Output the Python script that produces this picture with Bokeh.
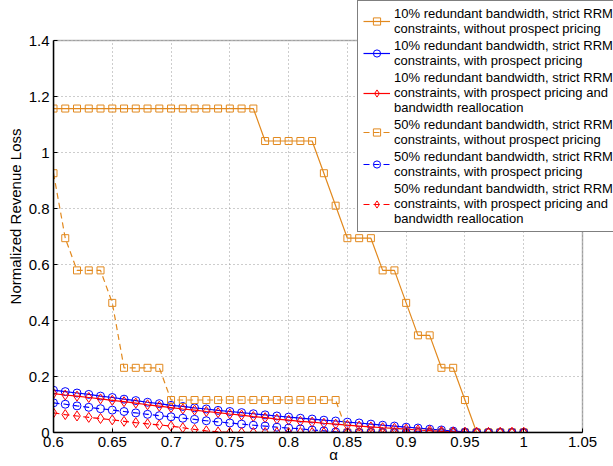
from bokeh.plotting import figure
from bokeh.models import Range1d, FixedTicker, Legend, LegendItem, BoxAnnotation
from bokeh.embed import file_html
from bokeh.resources import INLINE

# ---------------- data ----------------
alpha = [0.60, 0.61, 0.62, 0.63, 0.64, 0.65, 0.66, 0.67, 0.68, 0.69,
         0.70, 0.71, 0.72, 0.73, 0.74, 0.75, 0.76, 0.77, 0.78, 0.79,
         0.80, 0.81, 0.82, 0.83, 0.84, 0.85, 0.86, 0.87, 0.88, 0.89,
         0.90, 0.91, 0.92, 0.93, 0.94, 0.95, 0.96, 0.97, 0.98, 0.99, 1.00]

loss_10_no_prospect = [1.157, 1.157, 1.157, 1.157, 1.157, 1.157, 1.157, 1.157, 1.157, 1.157,
                       1.157, 1.157, 1.157, 1.157, 1.157, 1.157, 1.157, 1.157, 1.041, 1.041,
                       1.041, 1.041, 1.041, 0.926, 0.810, 0.694, 0.694, 0.694, 0.579, 0.579,
                       0.463, 0.347, 0.347, 0.231, 0.231, 0.116, 0.0, 0.0, 0.0, 0.0, 0.0]

loss_10_prospect = [0.151, 0.146, 0.141, 0.136, 0.130, 0.125, 0.119, 0.114, 0.108, 0.103,
                    0.097, 0.093, 0.088, 0.084, 0.079, 0.075, 0.071, 0.067, 0.063, 0.059,
                    0.055, 0.051, 0.048, 0.044, 0.041, 0.037, 0.034, 0.030, 0.026, 0.023,
                    0.019, 0.016, 0.012, 0.009, 0.005, 0.002, 0.0, 0.0, 0.0, 0.0, 0.0]

loss_10_realloc = [0.139, 0.134, 0.130, 0.125, 0.120, 0.115, 0.110, 0.105, 0.099, 0.094,
                   0.089, 0.084, 0.080, 0.075, 0.071, 0.066, 0.062, 0.057, 0.053, 0.048,
                   0.044, 0.040, 0.037, 0.033, 0.030, 0.026, 0.023, 0.020, 0.017, 0.015,
                   0.012, 0.009, 0.007, 0.004, 0.002, 0.0, 0.0, 0.0, 0.0, 0.0, 0.0]

loss_50_no_prospect = [0.926, 0.694, 0.579, 0.579, 0.579, 0.463, 0.231, 0.231, 0.231, 0.231,
                       0.116, 0.116, 0.116, 0.116, 0.116, 0.116, 0.116, 0.116, 0.116, 0.116,
                       0.116, 0.116, 0.116, 0.116, 0.116, 0.0, 0.0, 0.0, 0.0, 0.0,
                       0.0, 0.0, 0.0, 0.0, 0.0, 0.0, 0.0, 0.0, 0.0, 0.0, 0.0]

loss_50_prospect = [0.106, 0.101, 0.095, 0.090, 0.085, 0.080, 0.075, 0.070, 0.065, 0.060,
                    0.056, 0.051, 0.047, 0.042, 0.038, 0.034, 0.030, 0.026, 0.023, 0.019,
                    0.016, 0.013, 0.009, 0.006, 0.002, 0.0, 0.0, 0.0, 0.0, 0.0,
                    0.0, 0.0, 0.0, 0.0, 0.0, 0.0, 0.0, 0.0, 0.0, 0.0, 0.0]

loss_50_realloc = [0.070, 0.064, 0.059, 0.054, 0.050, 0.045, 0.040, 0.035, 0.031, 0.027,
                   0.023, 0.017, 0.011, 0.006, 0.002, 0.0, 0.0, 0.0, 0.0, 0.0,
                   0.0, 0.0, 0.0, 0.0, 0.0, 0.0, 0.0, 0.0, 0.0, 0.0,
                   0.0, 0.0, 0.0, 0.0, 0.0, 0.0, 0.0, 0.0, 0.0, 0.0, 0.0]

series_labels = [
    "10% redundant bandwidth, strict RRM\nconstraints, without prospect pricing",
    "10% redundant bandwidth, strict RRM\nconstraints, with prospect pricing",
    "10% redundant bandwidth, strict RRM\nconstraints, with prospect pricing and\nbandwidth reallocation",
    "50% redundant bandwidth, strict RRM\nconstraints, without prospect pricing",
    "50% redundant bandwidth, strict RRM\nconstraints, with prospect pricing",
    "50% redundant bandwidth, strict RRM\nconstraints, with prospect pricing and\nbandwidth reallocation",
]

xtick_vals = [0.6, 0.65, 0.7, 0.75, 0.8, 0.85, 0.9, 0.95, 1.0, 1.05]
xtick_labels = ["0.6", "0.65", "0.7", "0.75", "0.8", "0.85", "0.9", "0.95", "1", "1.05"]
ytick_vals = [0.0, 0.2, 0.4, 0.6, 0.8, 1.0, 1.2, 1.4]
ytick_labels = ["0", "0.2", "0.4", "0.6", "0.8", "1", "1.2", "1.4"]

# ---------------- layout (pixels) ----------------
W, H = 613, 466
BOX_L, BOX_R, BOX_T, BOX_B = 53, 582, 40, 432   # axes box in picture pixels
X0, X1 = xtick_vals[0], xtick_vals[-1]
Y0, Y1 = ytick_vals[0], ytick_vals[-1]
# frame spans from the axes box's left/bottom up to the picture's right/top edge
x_end = X1 + (W - BOX_R) * (X1 - X0) / (BOX_R - BOX_L)
y_end = Y1 + BOX_T * (Y1 - Y0) / (BOX_B - BOX_T)

ORANGE = "#E2891E"
BLUE = "#0000FF"
RED = "#FF0000"
FONT = "Liberation Sans"

p = figure(width=W, height=H,
           x_range=Range1d(X0, x_end), y_range=Range1d(Y0, y_end),
           output_backend="svg", toolbar_location=None,
           min_border_left=BOX_L, min_border_right=0,
           min_border_top=0, min_border_bottom=H - BOX_B)
p.background_fill_color = "white"
p.border_fill_color = "white"
p.outline_line_color = None

xt = FixedTicker(ticks=xtick_vals)
yt = FixedTicker(ticks=ytick_vals)

xa = p.xaxis[0]
ya = p.yaxis[0]
xa.ticker = xt
ya.ticker = yt
xa.bounds = (X0, X1)
ya.bounds = (Y0, Y1)
xa.major_label_overrides = dict(zip(xtick_vals, xtick_labels))
ya.major_label_overrides = dict(zip(ytick_vals, ytick_labels))

for ax in (xa, ya):
    ax.major_label_text_font = FONT
    ax.major_label_text_font_size = "15px"
    ax.major_label_text_color = "black"
    ax.axis_label_text_font = FONT
    ax.axis_label_text_font_size = "15px"
    ax.axis_label_text_font_style = "normal"
    ax.axis_label_text_color = "black"
    ax.axis_line_color = "black"
    ax.axis_line_width = 1.5
    ax.major_tick_in = 4
    ax.major_tick_out = 0
    ax.major_tick_line_color = "black"
    ax.minor_tick_line_color = None

xa.axis_label = "α"
xa.major_label_standoff = 4
xa.axis_label_standoff = -4
ya.axis_label = "Normalized Revenue Loss"
ya.major_label_standoff = 4
ya.axis_label_standoff = 2

p.xgrid.ticker = xt
p.ygrid.ticker = yt
for g in (p.xgrid, p.ygrid):
    g.grid_line_color = "#9a9a9a"
    g.grid_line_dash = "1 3"
    g.grid_line_width = 1

# blank out the frame area that lies outside the axes box
p.add_layout(BoxAnnotation(left=X1, fill_color="white", fill_alpha=1.0, line_color=None, level="underlay"))
p.add_layout(BoxAnnotation(bottom=Y1, fill_color="white", fill_alpha=1.0, line_color=None, level="underlay"))

series = [
    (loss_10_no_prospect, ORANGE, "solid", "square", 7),
    (loss_10_prospect, BLUE, "solid", "circle", 8),
    (loss_10_realloc, RED, "solid", "diamond", 10),
    (loss_50_no_prospect, ORANGE, "6 4", "square", 7),
    (loss_50_prospect, BLUE, "6 4", "circle", 8),
    (loss_50_realloc, RED, "6 4", "diamond", 10),
]

items = []
for (ys, color, dash, marker, size), lab in zip(series, series_labels):
    r_line = p.line(alpha, ys, line_color=color, line_width=1.2, line_dash=dash)
    r_mark = p.scatter(alpha, ys, marker=marker, size=size, line_color=color,
                       fill_color=None, line_width=1)
    items.append(LegendItem(label=lab, renderers=[r_line, r_mark]))

# axes box (MATLAB "box on")
p.add_layout(BoxAnnotation(left=X0, right=X1, bottom=Y0, top=Y1, fill_alpha=0.0,
                           line_color="black", line_width=1.5))

legend = Legend(items=items, location=(357 - BOX_L, BOX_B - 232))
legend.label_text_font = FONT
legend.label_text_font_size = "13px"
legend.label_text_line_height = 1.2
legend.label_text_color = "black"
legend.label_height = 15
legend.glyph_width = 27
legend.glyph_height = 18
legend.label_standoff = 4
legend.padding = 5
legend.spacing = 2
legend.margin = 0
legend.border_line_color = "black"
legend.border_line_width = 1
legend.background_fill_color = "white"
legend.background_fill_alpha = 1.0
p.add_layout(legend)

open("out.html", "w").write(file_html(p, INLINE))
